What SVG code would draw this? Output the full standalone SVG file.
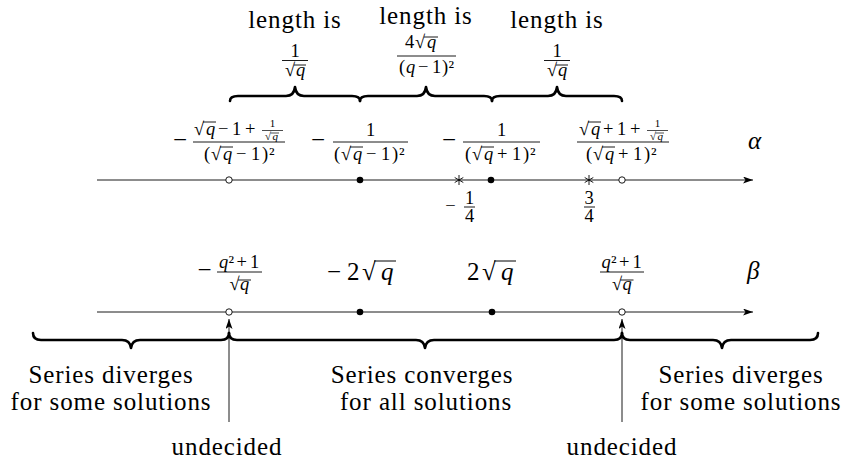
<svg xmlns="http://www.w3.org/2000/svg" width="841" height="464" viewBox="0 0 841 464" font-family="Liberation Serif, serif">
<style>
text, tspan{font-family:"Liberation Serif",serif !important;fill:#000}
.qi{font-style:italic}
.qs0{font-size:25px}
.qs1{font-size:18.5px}
.qs2{font-size:11px}
.qlab{font-size:25px;letter-spacing:0.9px}
.qln{stroke:#000;stroke-width:0.9;fill:none}
.qvin{stroke:#000;stroke-width:0.9}
.qthin{stroke:#000;stroke-width:0.7}
.qbr{stroke:#000;stroke-width:2.6;fill:none;stroke-linejoin:round;stroke-linecap:round}
.qopen{fill:#fff;stroke:#000;stroke-width:0.9}
.qdot{fill:#000}
</style>
<defs>
<marker id="ah" markerWidth="10" markerHeight="7" refX="10" refY="3.5" orient="auto" markerUnits="userSpaceOnUse"><path d="M0,0 L10,3.5 L0,7 L2.5,3.5 z" fill="#000"/></marker>
</defs>
<rect width="841" height="464" fill="#fff"/>

<g id="top-braces">
<path class="qbr" d="M230,101 Q230,96 238,96 L286,96 Q294,96 295,87 Q296,96 304,96 L352,96 Q360,96 360,101"/>
<path class="qbr" d="M360,101 Q360,96 368,96 L417,96 Q425,96 426,87 Q427,96 435,96 L484,96 Q492,96 492,101"/>
<path class="qbr" d="M492,101 Q492,96 500,96 L548,96 Q556,96 557,87 Q558,96 566,96 L614,96 Q622,96 622,101"/>
</g>

<g id="len1">
<text font-family="Liberation Serif" class="qlab" x="295" y="28" text-anchor="middle">length is</text>
<text font-family="Liberation Serif" class="qs1" x="295" y="57" text-anchor="middle">1</text>
<line class="qvin" x1="282" y1="60.5" x2="308" y2="60.5"/>
<text font-family="Liberation Serif" class="qs1" y="76"><tspan x="285">√</tspan><tspan class="qi" x="296">q</tspan></text>
<line class="qvin" x1="294" y1="65" x2="306" y2="65"/>
</g>
<g id="len2">
<text font-family="Liberation Serif" class="qlab" x="426" y="24" text-anchor="middle">length is</text>
<text font-family="Liberation Serif" class="qs1" y="48"><tspan x="405">4</tspan><tspan x="415">√</tspan><tspan class="qi" x="427">q</tspan></text>
<line class="qvin" x1="424" y1="37" x2="438" y2="37"/>
<line class="qvin" x1="397" y1="56" x2="456" y2="56"/>
<text font-family="Liberation Serif" class="qs1" y="73"><tspan x="399">(</tspan><tspan class="qi" x="406">q</tspan><tspan x="418">−</tspan><tspan x="432">1</tspan><tspan x="442">)</tspan><tspan x="448.5">²</tspan></text>
</g>
<g id="len3">
<text font-family="Liberation Serif" class="qlab" x="557" y="28" text-anchor="middle">length is</text>
<text font-family="Liberation Serif" class="qs1" x="557" y="57" text-anchor="middle">1</text>
<line class="qvin" x1="544" y1="60.5" x2="570" y2="60.5"/>
<text font-family="Liberation Serif" class="qs1" y="76"><tspan x="547">√</tspan><tspan class="qi" x="558">q</tspan></text>
<line class="qvin" x1="556" y1="65" x2="568" y2="65"/>
</g>

<g id="alpha-labels">
<g id="a1">
<text font-family="Liberation Serif" class="qs0" x="180" y="148" text-anchor="middle">−</text>
<line class="qvin" x1="193" y1="142" x2="285" y2="142"/>
<text font-family="Liberation Serif" class="qs1" y="135"><tspan x="194">√</tspan><tspan class="qi" x="206">q</tspan><tspan x="218">−</tspan><tspan x="232">1</tspan><tspan x="245">+</tspan></text>
<line class="qvin" x1="203" y1="122" x2="216" y2="122"/>
<text font-family="Liberation Serif" class="qs2" x="272.5" y="127.3" text-anchor="middle">1</text>
<line class="qthin" x1="262" y1="130.5" x2="283" y2="130.5"/>
<text font-family="Liberation Serif" class="qs2" y="139.5"><tspan x="265">√</tspan><tspan class="qi" x="272.5">q</tspan></text>
<line class="qthin" x1="270.5" y1="133" x2="279" y2="133"/>
<text font-family="Liberation Serif" class="qs1" y="160"><tspan x="204">(</tspan><tspan x="211">√</tspan><tspan class="qi" x="223">q</tspan><tspan x="236">−</tspan><tspan x="251">1</tspan><tspan x="262">)</tspan><tspan x="269">²</tspan></text>
<line class="qvin" x1="220" y1="147" x2="233" y2="147"/>
</g>
<g id="a2">
<text font-family="Liberation Serif" class="qs0" x="318" y="148" text-anchor="middle">−</text>
<line class="qvin" x1="333" y1="142" x2="408" y2="142"/>
<text font-family="Liberation Serif" class="qs1" x="370.5" y="136" text-anchor="middle">1</text>
<text font-family="Liberation Serif" class="qs1" y="160"><tspan x="334">(</tspan><tspan x="341">√</tspan><tspan class="qi" x="353">q</tspan><tspan x="366">−</tspan><tspan x="381">1</tspan><tspan x="392">)</tspan><tspan x="399">²</tspan></text>
<line class="qvin" x1="350" y1="147" x2="363" y2="147"/>
</g>
<g id="a3">
<text font-family="Liberation Serif" class="qs0" x="449" y="148" text-anchor="middle">−</text>
<line class="qvin" x1="463" y1="142" x2="540" y2="142"/>
<text font-family="Liberation Serif" class="qs1" x="501.5" y="136" text-anchor="middle">1</text>
<text font-family="Liberation Serif" class="qs1" y="160"><tspan x="465">(</tspan><tspan x="472">√</tspan><tspan class="qi" x="484">q</tspan><tspan x="497">+</tspan><tspan x="512">1</tspan><tspan x="523">)</tspan><tspan x="530">²</tspan></text>
<line class="qvin" x1="481" y1="147" x2="494" y2="147"/>
</g>
<g id="a4">
<line class="qvin" x1="577" y1="142" x2="669" y2="142"/>
<text font-family="Liberation Serif" class="qs1" y="135"><tspan x="579">√</tspan><tspan class="qi" x="591">q</tspan><tspan x="603">+</tspan><tspan x="617">1</tspan><tspan x="630">+</tspan></text>
<line class="qvin" x1="588" y1="122" x2="601" y2="122"/>
<text font-family="Liberation Serif" class="qs2" x="657.5" y="127.3" text-anchor="middle">1</text>
<line class="qthin" x1="647" y1="130.5" x2="668" y2="130.5"/>
<text font-family="Liberation Serif" class="qs2" y="139.5"><tspan x="650">√</tspan><tspan class="qi" x="657.5">q</tspan></text>
<line class="qthin" x1="655.5" y1="133" x2="664" y2="133"/>
<text font-family="Liberation Serif" class="qs1" y="160"><tspan x="586">(</tspan><tspan x="593">√</tspan><tspan class="qi" x="605">q</tspan><tspan x="618">+</tspan><tspan x="633">1</tspan><tspan x="644">)</tspan><tspan x="651">²</tspan></text>
<line class="qvin" x1="602" y1="147" x2="615" y2="147"/>
</g>
<text font-family="Liberation Serif" id="alpha" class="qs0 qi" x="748" y="149">α</text>
</g>

<g id="alpha-axis">
<line class="qln" x1="97" y1="180" x2="753" y2="180" marker-end="url(#ah)"/>
<circle class="qopen" cx="229" cy="180" r="3.2"/>
<circle class="qdot" cx="360" cy="180" r="3.3"/>
<circle class="qdot" cx="491" cy="180" r="3.3"/>
<circle class="qopen" cx="622" cy="180" r="3.2"/>
<path class="qln" d="M459,175 V185 M454.7,177.5 L463.3,182.5 M454.7,182.5 L463.3,177.5"/>
<path class="qln" d="M589,175 V185 M584.7,177.5 L593.3,182.5 M584.7,182.5 L593.3,177.5"/>
</g>

<g id="quarter">
<text font-family="Liberation Serif" class="qs1" x="450.5" y="211.5" text-anchor="middle">−</text>
<text font-family="Liberation Serif" class="qs1" x="469.5" y="203.5" text-anchor="middle">1</text>
<line class="qvin" x1="464" y1="207" x2="475" y2="207"/>
<text font-family="Liberation Serif" class="qs1" x="469.5" y="222" text-anchor="middle">4</text>
</g>
<g id="threequarter">
<text font-family="Liberation Serif" class="qs1" x="589" y="203.5" text-anchor="middle">3</text>
<line class="qvin" x1="584" y1="207" x2="595" y2="207"/>
<text font-family="Liberation Serif" class="qs1" x="589" y="222" text-anchor="middle">4</text>
</g>

<g id="beta-labels">
<g id="b1">
<text font-family="Liberation Serif" class="qs0" x="204.5" y="278" text-anchor="middle">−</text>
<line class="qvin" x1="217" y1="272" x2="262" y2="272"/>
<text font-family="Liberation Serif" class="qs1" y="268"><tspan class="qi" x="219">q</tspan><tspan x="228.5">²</tspan><tspan x="236.5">+</tspan><tspan x="250">1</tspan></text>
<text font-family="Liberation Serif" class="qs1" y="290"><tspan x="229.5">√</tspan><tspan class="qi" x="240">q</tspan></text>
<line class="qvin" x1="238" y1="280" x2="251" y2="280"/>
</g>
<g id="b2">
<text font-family="Liberation Serif" class="qs0" y="280"><tspan x="327">−</tspan><tspan x="347">2</tspan><tspan x="362">√</tspan><tspan class="qi" x="381">q</tspan></text>
<line class="qvin" x1="374" y1="261" x2="396" y2="261" style="stroke-width:1"/>
</g>
<g id="b3">
<text font-family="Liberation Serif" class="qs0" y="280"><tspan x="467">2</tspan><tspan x="482">√</tspan><tspan class="qi" x="501">q</tspan></text>
<line class="qvin" x1="494" y1="261" x2="516" y2="261" style="stroke-width:1"/>
</g>
<g id="b4">
<line class="qvin" x1="600" y1="272" x2="644" y2="272"/>
<text font-family="Liberation Serif" class="qs1" y="268"><tspan class="qi" x="601.5">q</tspan><tspan x="611">²</tspan><tspan x="619">+</tspan><tspan x="632.5">1</tspan></text>
<text font-family="Liberation Serif" class="qs1" y="290"><tspan x="612">√</tspan><tspan class="qi" x="622.5">q</tspan></text>
<line class="qvin" x1="620.5" y1="280" x2="633.5" y2="280"/>
</g>
<text font-family="Liberation Serif" id="beta" class="qs0 qi" x="747" y="279">β</text>
</g>

<g id="beta-axis">
<line class="qln" x1="97" y1="312" x2="753" y2="312" marker-end="url(#ah)"/>
<circle class="qopen" cx="229" cy="312" r="3.2"/>
<circle class="qdot" cx="360" cy="312" r="3.3"/>
<circle class="qdot" cx="492" cy="312" r="3.3"/>
<circle class="qopen" cx="622" cy="312" r="3.2"/>
</g>

<g id="bottom-braces">
<path class="qbr" d="M33,333 Q33,340 41,340 L122,340 Q130,340 131,348 Q132,340 140,340 L221,340 Q229,340 229,333"/>
<path class="qbr" d="M229,333 Q229,340 237,340 L416,340 Q424,340 425,348 Q426,340 434,340 L614,340 Q622,340 622,333"/>
<path class="qbr" d="M622,333 Q622,340 630,340 L713,340 Q721,340 722,348 Q723,340 731,340 L810,340 Q818,340 818,333"/>
</g>

<g id="connectors">
<line class="qln" x1="229" y1="422" x2="229" y2="319" marker-end="url(#ah)"/>
<line class="qln" x1="622" y1="422" x2="622" y2="319" marker-end="url(#ah)"/>
</g>

<g id="left-region">
<text font-family="Liberation Serif" class="qlab" x="111" y="383" text-anchor="middle">Series diverges</text>
<text font-family="Liberation Serif" class="qlab" x="111" y="410" text-anchor="middle">for some solutions</text>
</g>
<g id="middle-region">
<text font-family="Liberation Serif" class="qlab" x="422" y="383" text-anchor="middle">Series converges</text>
<text font-family="Liberation Serif" class="qlab" x="426" y="410" text-anchor="middle">for all solutions</text>
</g>
<g id="right-region">
<text font-family="Liberation Serif" class="qlab" x="741" y="383" text-anchor="middle">Series diverges</text>
<text font-family="Liberation Serif" class="qlab" x="741" y="410" text-anchor="middle">for some solutions</text>
</g>
<g id="undecided-left">
<text font-family="Liberation Serif" class="qlab" x="227" y="455" text-anchor="middle">undecided</text>
</g>
<g id="undecided-right">
<text font-family="Liberation Serif" class="qlab" x="622" y="455" text-anchor="middle">undecided</text>
</g>
</svg>
